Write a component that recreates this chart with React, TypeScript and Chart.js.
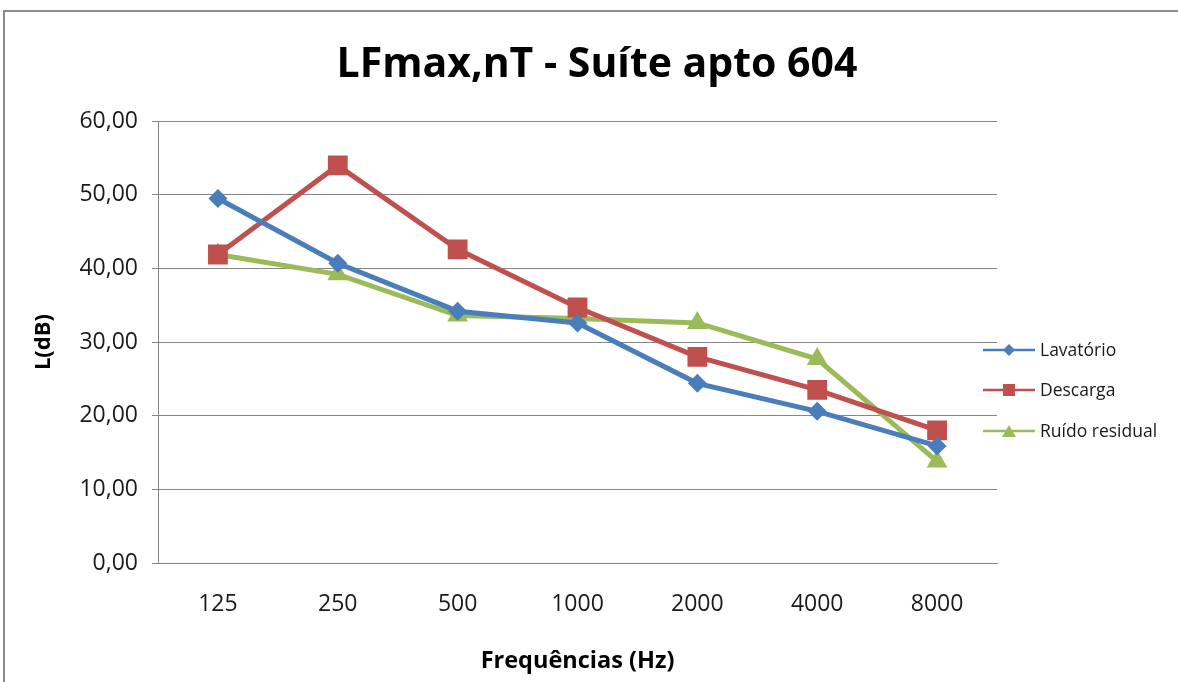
import React, { useEffect, useRef } from "react";
import { Chart, registerables } from "chart.js";

Chart.register(...registerables);

const categories = ["125", "250", "500", "1000", "2000", "4000", "8000"];
const lavatorio = [49.5, 40.7, 34.2, 32.6, 24.4, 20.6, 15.9];
const descarga = [41.9, 54.0, 42.6, 34.7, 28.0, 23.5, 18.0];
const ruidoResidual = [41.9, 39.2, 33.6, 33.2, 32.6, 27.7, 13.8];
const yTicks = [0, 10, 20, 30, 40, 50, 60];

const FONT = "'Open Sans', Lato, 'Liberation Sans', sans-serif";
const BLUE = "#4A7EBB";
const RED = "#C0504D";
const GREEN = "#9BBB59";

// Excel-style legend: a short line with the series marker in its middle
const lineLegend = {
  id: "lineLegend",
  afterDraw(chart: any) {
    const ctx = chart.ctx;
    const x0 = 983;
    const x1 = 1035;
    const ys = [350, 390, 431];
    chart.data.datasets.forEach((ds: any, i: number) => {
      const y = ys[i];
      ctx.save();
      ctx.strokeStyle = ds.borderColor;
      ctx.lineWidth = 2.5;
      ctx.beginPath();
      ctx.moveTo(x0, y);
      ctx.lineTo(x1, y);
      ctx.stroke();
      ctx.fillStyle = ds.borderColor;
      const cx = (x0 + x1) / 2;
      ctx.beginPath();
      if (ds.pointStyle === "rectRot") {
        ctx.moveTo(cx, y - 6);
        ctx.lineTo(cx + 6, y);
        ctx.lineTo(cx, y + 6);
        ctx.lineTo(cx - 6, y);
      } else if (ds.pointStyle === "rect") {
        ctx.rect(cx - 6, y - 6, 12, 12);
      } else {
        ctx.moveTo(cx, y - 6);
        ctx.lineTo(cx + 7, y + 6);
        ctx.lineTo(cx - 7, y + 6);
      }
      ctx.closePath();
      ctx.fill();
      ctx.fillStyle = "#1a1a1a";
      ctx.font = `17.5px ${FONT}`;
      ctx.textBaseline = "middle";
      ctx.textAlign = "left";
      ctx.fillText(ds.label, x1 + 5, y + 1);
      ctx.restore();
    });
  },
};

export default function App() {
  const ref = useRef<HTMLCanvasElement>(null);

  useEffect(() => {
    if (!ref.current) return;
    const chart = new Chart(ref.current, {
      type: "line",
      data: {
        labels: categories,
        datasets: [
          {
            label: "Lavatório",
            data: lavatorio,
            borderColor: BLUE,
            backgroundColor: BLUE,
            borderWidth: 5,
            pointStyle: "rectRot",
            pointRadius: 9.5,
            pointBorderWidth: 0,
          },
          {
            label: "Descarga",
            data: descarga,
            borderColor: RED,
            backgroundColor: RED,
            borderWidth: 5,
            pointStyle: "rect",
            pointRadius: 14,
            pointBorderWidth: 0,
          },
          {
            label: "Ruído residual",
            data: ruidoResidual,
            borderColor: GREEN,
            backgroundColor: GREEN,
            borderWidth: 5,
            pointStyle: "triangle",
            pointRadius: 12,
            pointBorderWidth: 0,
          },
        ],
      },
      options: {
        animation: false,
        responsive: false,
        layout: { padding: { left: 16, right: 0, top: 0, bottom: 0 } },
        plugins: {
          legend: { display: false },
          tooltip: { enabled: false },
          title: {
            display: true,
            text: "LFmax,nT - Suíte apto 604",
            color: "#000",
            font: { family: FONT, size: 41, weight: "bold", lineHeight: 1.2 },
            padding: { top: 41, bottom: 31 },
          },
        },
        scales: {
          x: {
            offset: true,
            grid: { display: false, drawTicks: false, offset: true },
            border: { display: true, color: "#868686", width: 1 },
            ticks: {
              color: "#1a1a1a",
              font: { family: FONT, size: 23 },
              padding: 28,
            },
            title: {
              display: true,
              text: "Frequências (Hz)",
              color: "#000",
              font: { family: FONT, size: 23.5, weight: "bold" },
              padding: { top: 0, bottom: 7 },
            },
            afterFit(s: any) {
              s.height = 119;
            },
          },
          y: {
            min: 0,
            max: 60,
            afterBuildTicks(s: any) {
              s.ticks = yTicks.map((v) => ({ value: v }));
            },
            grid: { color: "#868686", lineWidth: 1, tickLength: 6 },
            border: { display: true, color: "#868686", width: 1 },
            ticks: {
              color: "#1a1a1a",
              font: { family: FONT, size: 23 },
              padding: 14,
              callback: (v: any) => Number(v).toFixed(2).replace(".", ","),
            },
            title: {
              display: true,
              text: "L(dB)",
              color: "#000",
              font: { family: FONT, size: 22, weight: "bold" },
              padding: { top: 15, bottom: 0 },
            },
            afterFit(s: any) {
              s.width = 142;
            },
          },
          // empty right-hand strip that holds the legend
          legendSpace: {
            type: "linear",
            position: "right",
            display: true,
            grid: { display: false, drawTicks: false, drawOnChartArea: false },
            border: { display: false },
            ticks: { display: false },
            afterFit(s: any) {
              s.width = 181;
            },
          },
        },
      },
      plugins: [lineLegend],
    });
    return () => chart.destroy();
  }, []);

  return (
    <div
      style={{
        position: "absolute",
        left: 0,
        top: 0,
        width: 1178,
        height: 682,
        overflow: "hidden",
        background: "#fff",
      }}
    >
      <div
        style={{
          position: "absolute",
          left: 3,
          top: 10,
          width: 1240,
          height: 740,
          border: "2px solid #8c8c8c",
        }}
      />
      <canvas
        ref={ref}
        width={1178}
        height={682}
        style={{ position: "absolute", left: 0, top: 0 }}
      />
    </div>
  );
}
